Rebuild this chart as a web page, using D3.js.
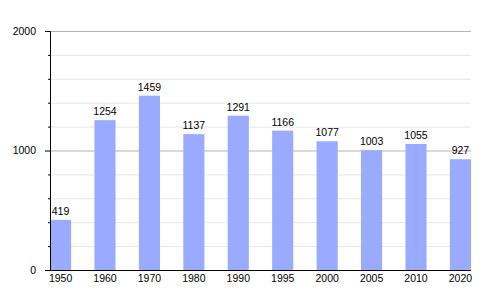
<!DOCTYPE html>
<html lang="fr">
<head>
<meta charset="UTF-8">
<title>Population</title>
<style>
  body { margin: 0; background: #fff; }
  text { font-family: "Liberation Sans", Arial, sans-serif; font-size: 10.5px; fill: #000; }
</style>
</head>
<body>
<div id="chart"></div>
<script src="https://d3js.org/d3.v7.min.js"></script>
<script>
const years = ["1950", "1960", "1970", "1980", "1990", "1995", "2000", "2005", "2010", "2020"];
const population = [419, 1254, 1459, 1137, 1291, 1166, 1077, 1003, 1055, 927];
const majorTicks = [0, 1000, 2000];
const minorTicks = [200, 400, 600, 800, 1200, 1400, 1600, 1800];

const W = 500, H = 300;
const plotLeft = 50, plotRight = 471, plotTop = 31, plotBottom = 270;

const svg = d3.select("#chart").append("svg")
  .attr("width", W).attr("height", H);

const x = d3.scaleBand()
  .domain(years)
  .range([plotLeft, plotRight])
  .paddingInner(0.525)
  .paddingOuter(0)
  .align(0);

const y = d3.scaleLinear()
  .domain([0, 2000])
  .range([plotBottom, plotTop]);

// gridlines
svg.append("g").selectAll("line")
  .data(minorTicks)
  .join("line")
  .attr("x1", plotLeft).attr("x2", plotRight)
  .attr("y1", d => y(d) + 0.5).attr("y2", d => y(d) + 0.5)
  .attr("stroke", "#e6e6e6");

svg.append("g").selectAll("line")
  .data(majorTicks.filter(d => d > 0))
  .join("line")
  .attr("x1", plotLeft).attr("x2", plotRight)
  .attr("y1", d => y(d) + 0.5).attr("y2", d => y(d) + 0.5)
  .attr("stroke", "#b4b4b4");

// bars
svg.append("g").selectAll("rect")
  .data(population)
  .join("rect")
  .attr("x", (d, i) => x(years[i]))
  .attr("y", d => y(d))
  .attr("width", x.bandwidth())
  .attr("height", d => y(0) - y(d))
  .attr("fill", "#99aaff");

// value labels
svg.append("g").selectAll("text")
  .data(population)
  .join("text")
  .attr("x", (d, i) => x(years[i]) + x.bandwidth() / 2)
  .attr("y", d => y(d) - 5)
  .attr("text-anchor", "middle")
  .text(d => d);

// y axis
const yAxis = svg.append("g")
  .attr("transform", `translate(${plotLeft},0)`)
  .call(d3.axisLeft(y).tickValues(majorTicks).tickSize(5).tickPadding(9).tickFormat(d3.format("d")));
yAxis.select(".domain").attr("stroke", "#000");
yAxis.selectAll(".tick text").style("font-size", "10.5px").attr("font-family", null);

svg.append("g")
  .attr("transform", `translate(${plotLeft},0)`)
  .call(d3.axisLeft(y).tickValues(minorTicks).tickSize(2).tickFormat(""))
  .call(g => g.select(".domain").remove());

// x axis
const xAxis = svg.append("g")
  .attr("transform", `translate(0,${plotBottom})`)
  .call(d3.axisBottom(x).tickSize(0).tickPadding(5).offset(0));
xAxis.select(".domain").attr("d", `M${plotLeft - 5},0.5H${plotRight}`).attr("stroke", "#000");
xAxis.selectAll(".tick text").attr("font-family", null).style("font-size", "10.5px");
</script>
</body>
</html>
